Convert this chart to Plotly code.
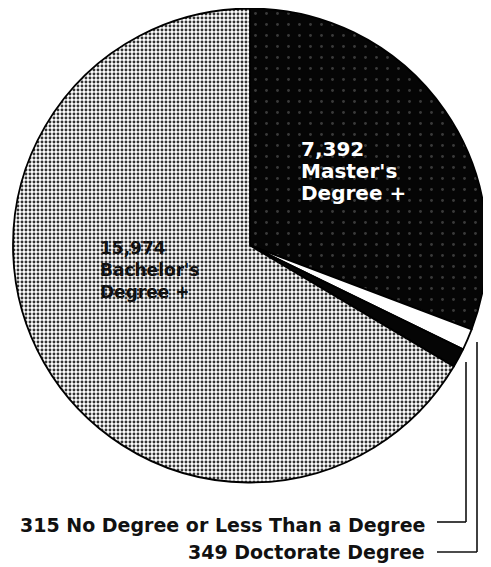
import plotly.graph_objects as go

# slice data, clockwise from 12 o'clock
categories = ["Master's<br>Degree +", "Doctorate Degree", "No Degree or Less Than a Degree", "Bachelor's<br>Degree +"]
values = [7392, 349, 315, 15974]
slice_colors = ["#050505", "#ffffff", "#050505", "#ffffff"]

# the page body has an 8px margin, so the figure sits at (8, 8) in the window
OFF = 8
W, H = 491 - OFF, 567 - OFF


def px(x):
    return (x - OFF) / W


def py(y):
    return 1 - (y - OFF) / H


fig = go.Figure()
fig.add_trace(go.Pie(
    labels=categories,
    values=values,
    sort=False,
    direction="clockwise",
    rotation=0,
    textinfo="none",
    hoverinfo="label+value",
    domain=dict(x=[px(13), px(487)], y=[py(483), py(8)]),
    marker=dict(
        colors=slice_colors,
        line=dict(color="#000000", width=1.8),
        pattern=dict(
            shape=[".", "", "", "."],
            fgcolor=["#3a3a3a", "#000000", "#000000", "#333333"],
            bgcolor=["#050505", "#ffffff", "#050505", "#ffffff"],
            size=[11, 4, 4, 4],
            solidity=[0.05, 0.3, 0.3, 0.42],
        ),
    ),
))

font_name = "DejaVu Sans, sans-serif"
annotations = []

# in-slice labels, one annotation per line
inside = [
    (0, 299, 135, 20, "white", 22),
    (3, 98, 236, 17, "#111111", 22),
]
for idx, x0, y0, size, col, step in inside:
    lines = [f"{values[idx]:,}"] + categories[idx].split("<br>")
    for k, line in enumerate(lines):
        annotations.append(dict(
            x=px(x0), y=py(y0 + k * step), xref="paper", yref="paper",
            xanchor="left", yanchor="top", showarrow=False,
            text="<b>" + line + "</b>",
            font=dict(family=font_name, size=size, color=col),
        ))

# outside labels for the two thin slices
outside = [(2, 525), (1, 552)]
for idx, yc in outside:
    annotations.append(dict(
        x=px(427), y=py(yc), xref="paper", yref="paper",
        xanchor="right", yanchor="middle", showarrow=False,
        text=f"<b>{values[idx]:,} {categories[idx]}</b>",
        font=dict(family=font_name, size=19, color="#111111"),
    ))

# leader lines
shapes = []
leaders = [(466, 362, 522), (477, 342, 552)]
for lx, ytop, ybot in leaders:
    shapes.append(dict(type="line", xref="paper", yref="paper",
                       x0=px(lx), y0=py(ytop), x1=px(lx), y1=py(ybot),
                       line=dict(color="#111111", width=1.6)))
    shapes.append(dict(type="line", xref="paper", yref="paper",
                       x0=px(437), y0=py(ybot), x1=px(lx), y1=py(ybot),
                       line=dict(color="#111111", width=1.6)))

fig.update_layout(
    width=W, height=H,
    margin=dict(l=0, r=0, t=0, b=0),
    paper_bgcolor="white",
    plot_bgcolor="white",
    showlegend=False,
    annotations=annotations,
    shapes=shapes,
)

fig.write_html("out.html")
